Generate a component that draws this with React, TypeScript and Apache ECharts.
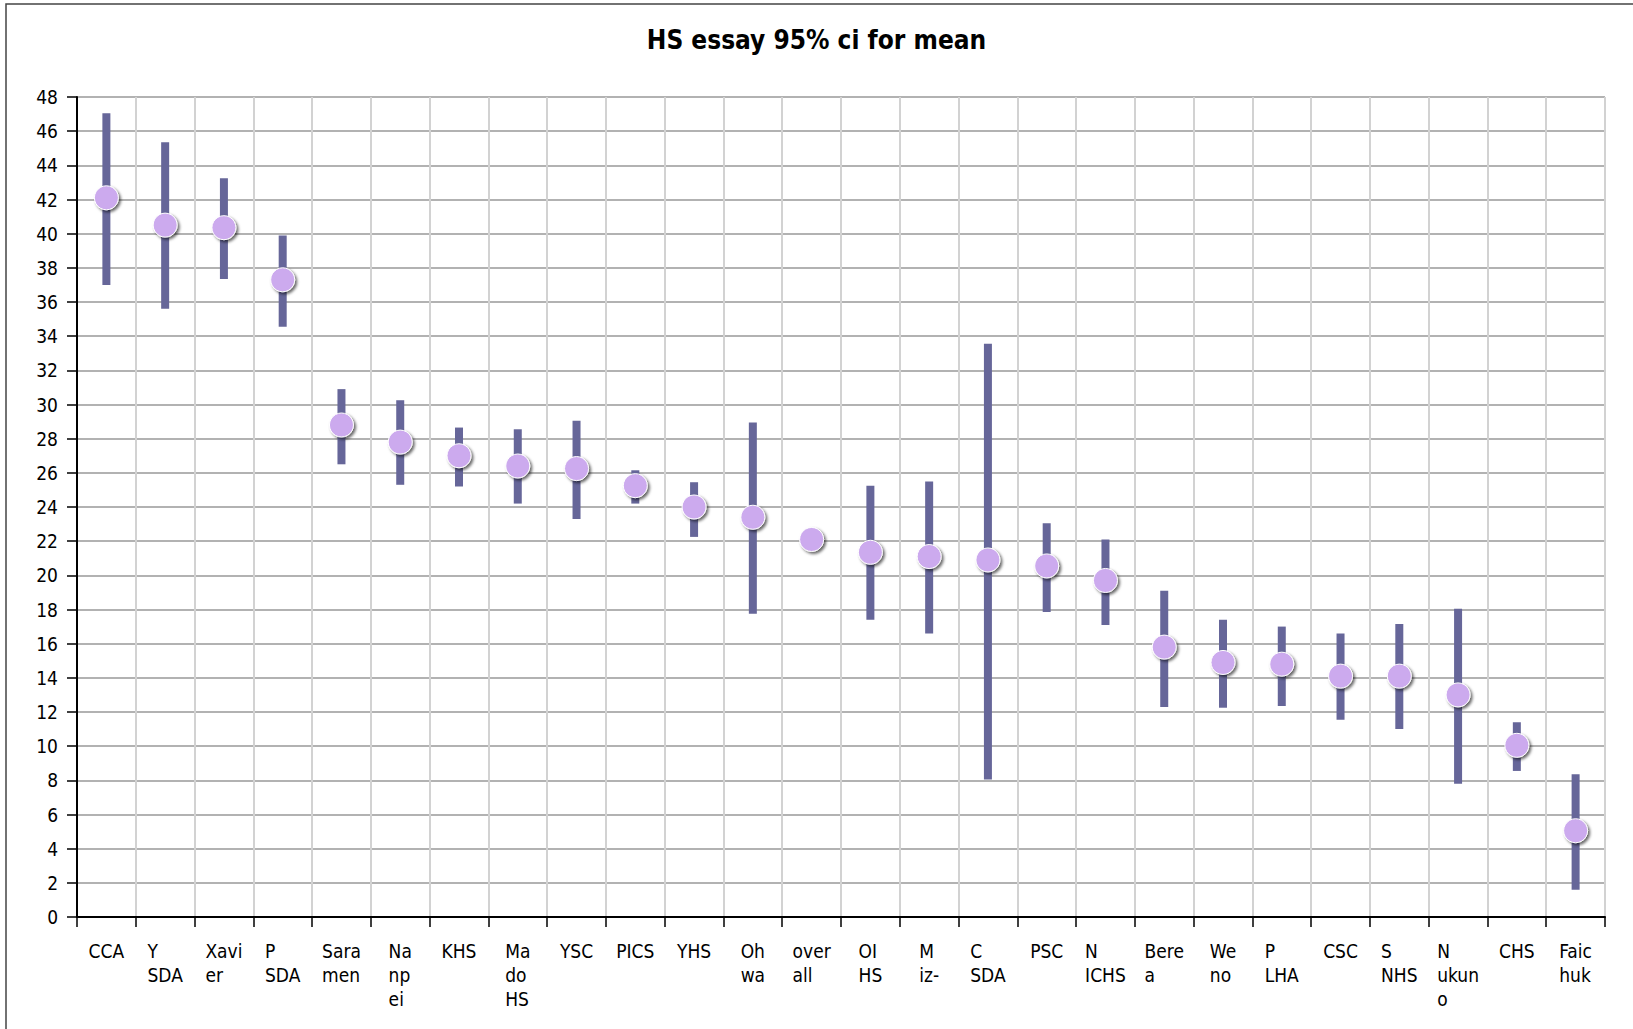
import React, { useEffect, useRef } from "react";
import * as echarts from "echarts";

const title = "HS essay 95% ci for mean";

const categories = [
  "CCA", "Y\nSDA", "Xavi\ner", "P\nSDA", "Sara\nmen", "Na\nnp\nei", "KHS", "Ma\ndo\nHS", "YSC",
  "PICS", "YHS", "Oh\nwa", "over\nall", "OI\nHS", "M\niz-", "C\nSDA", "PSC", "N\nICHS",
  "Bere\na", "We\nno", "P\nLHA", "CSC", "S\nNHS", "N\nukun\no", "CHS", "Faic\nhuk",
];

const means = [
  42.1, 40.5, 40.35, 37.3, 28.8, 27.8, 27.0, 26.4, 26.25,
  25.25, 24.0, 23.4, 22.1, 21.35, 21.1, 20.9, 20.55, 19.7,
  15.8, 14.9, 14.8, 14.1, 14.1, 13.0, 10.05, 5.05,
];

const lowers = [
  37.0, 35.6, 37.35, 34.55, 26.5, 25.3, 25.2, 24.2, 23.3,
  24.2, 22.25, 17.75, 21.9, 17.4, 16.6, 8.05, 17.85, 17.1,
  12.3, 12.25, 12.35, 11.55, 11.0, 7.8, 8.55, 1.6,
];

const uppers = [
  47.05, 45.35, 43.25, 39.9, 30.9, 30.25, 28.65, 28.55, 29.05,
  26.15, 25.45, 28.95, 22.3, 25.25, 25.5, 33.55, 23.05, 22.1,
  19.1, 17.4, 17.0, 16.6, 17.15, 18.05, 11.4, 8.35,
];

const yTicks = { min: 0, max: 48, interval: 2 };

const FONT = '"DejaVu Sans Condensed", "DejaVu Sans", sans-serif';

export default function App() {
  const ref = useRef<HTMLDivElement>(null);

  useEffect(() => {
    if (!ref.current) return;
    const chart = echarts.init(ref.current, null, { renderer: "svg" });
    const ciData = categories.map((_, i) => [i, lowers[i], uppers[i]]);
    const option: any = {
      animation: false,
      backgroundColor: "#ffffff",
      title: {
        text: title,
        left: "center",
        top: 22,
        textStyle: { fontFamily: FONT, fontSize: 26, fontWeight: "bold", color: "#000" },
      },
      graphic: [
        {
          type: "rect",
          shape: { x: 6, y: 4, width: 1700, height: 1100 },
          style: { fill: "none", stroke: "#444", lineWidth: 1.5 },
          silent: true,
        },
      ],
      grid: { left: 77, right: 28, top: 97, bottom: 112, containLabel: false },
      xAxis: {
        type: "category",
        data: categories,
        boundaryGap: true,
        axisLine: { show: true, lineStyle: { color: "#000", width: 2 } },
        axisTick: { show: true, length: 10, lineStyle: { color: "#000", width: 1.5 }, alignWithLabel: false },
        splitLine: { show: true, lineStyle: { color: "#d2d2d2", width: 2 } },
        axisLabel: {
          interval: 0,
          margin: 22,
          align: "center",
          verticalAlign: "top",
          color: "#000",
          fontFamily: FONT,
          fontSize: 19,
          lineHeight: 24,
          formatter: (v: string) => v.split("\n").map((l) => `{a|${l}}`).join("\n"),
          rich: {
            a: { align: "left", fontFamily: FONT, fontSize: 19, lineHeight: 24, color: "#000" },
          },
        },
      },
      yAxis: {
        type: "value",
        min: yTicks.min,
        max: yTicks.max,
        interval: yTicks.interval,
        axisLine: { show: true, lineStyle: { color: "#000", width: 2 } },
        axisTick: { show: true, length: 10, lineStyle: { color: "#000", width: 1.5 } },
        splitLine: { show: true, lineStyle: { color: "#999", width: 1.5 } },
        axisLabel: { color: "#000", fontFamily: FONT, fontSize: 19, margin: 19 },
      },
      series: [
        {
          type: "custom",
          name: "95% CI",
          data: ciData,
          encode: { x: 0, y: [1, 2] },
          z: 2,
          renderItem: (params: any, api: any) => {
            const hi = api.coord([api.value(0), api.value(2)]);
            const lo = api.coord([api.value(0), api.value(1)]);
            return {
              type: "rect",
              shape: { x: hi[0] - 4, y: hi[1], width: 8, height: lo[1] - hi[1] },
              style: { fill: "#666699" },
            };
          },
        },
        {
          type: "scatter",
          name: "mean",
          data: means,
          z: 3,
          symbol: "circle",
          symbolSize: 24,
          emphasis: { disabled: true },
          itemStyle: {
            color: "#CCAAEE",
            opacity: 1,
            borderColor: "#ffffff",
            borderWidth: 1,
            shadowColor: "rgba(0,0,0,0.6)",
            shadowBlur: 3,
            shadowOffsetX: 2,
            shadowOffsetY: 2,
          },
        },
      ],
    };
    chart.setOption(option);
    return () => chart.dispose();
  }, []);

  return (
    <div
      ref={ref}
      style={{ position: "fixed", left: 0, top: 0, width: 1633, height: 1029 }}
    />
  );
}
